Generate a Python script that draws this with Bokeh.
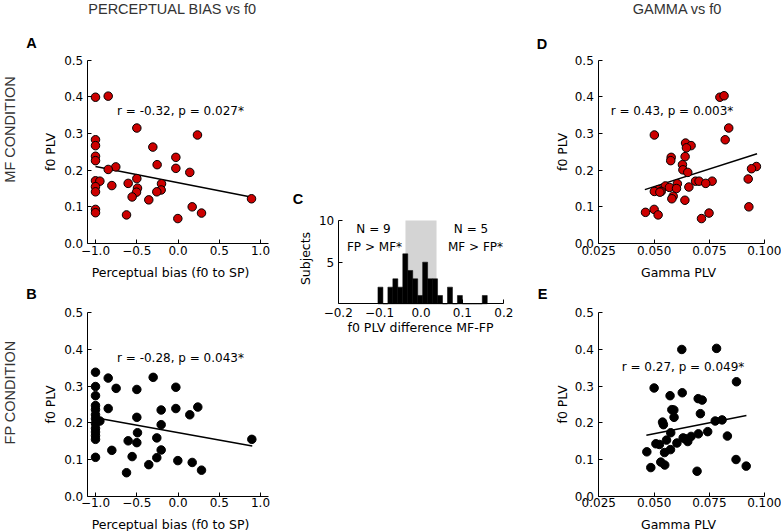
import math
from bokeh.plotting import figure
from bokeh.layouts import row, column
from bokeh.models import FixedTicker, Label, Range1d, LinearAxis
from bokeh.embed import file_html
from bokeh.resources import INLINE

# ---------------- data ----------------
# Panel A: MF condition, perceptual bias vs f0 PLV
a_bias = [-1.0, -0.846, -0.499, 0.236, -1.0, -1.0, -0.305, -1.0, -1.0, -0.026, -0.253, -0.754,
          -0.846, -0.026, 0.143, -0.499, -1.0, -0.947, -0.604, -0.802, -0.200, -1.0, -0.491, -0.204,
          -1.0, -0.503, -0.257, -0.556, -0.354, 0.891, 0.172, -1.0, -1.0, 0.285, -0.624, -0.002]
a_plv = [0.399, 0.402, 0.315, 0.296, 0.283, 0.267, 0.263, 0.238, 0.226, 0.235, 0.215, 0.209,
         0.202, 0.205, 0.194, 0.177, 0.171, 0.170, 0.164, 0.158, 0.163, 0.155, 0.151, 0.146,
         0.141, 0.140, 0.141, 0.127, 0.119, 0.122, 0.100, 0.093, 0.084, 0.083, 0.078, 0.068]
a_fit_x = [-1.0, 0.90]
a_fit_y = [0.210, 0.126]
a_stat = "r = -0.32, p = 0.027*"

# Panel B: FP condition, perceptual bias vs f0 PLV
b_bias = [-1.0, -0.846, -0.301, -1.0, -0.026, -0.750, -0.499, -1.0, -1.0, -0.846, -0.026, 0.240,
          -1.0, -0.204, 0.143, -1.0, -0.499, -1.0, -0.947, -1.0, -0.204, -1.0, -1.0, -0.491,
          -1.0, -0.257, -1.0, 0.895, -0.604, -0.499, -0.802, -0.204, -0.556, -0.257, -1.0, -0.002,
          -0.354, 0.172, -0.624, 0.285]
b_plv = [0.338, 0.322, 0.324, 0.299, 0.297, 0.294, 0.291, 0.274, 0.247, 0.239, 0.239, 0.243,
         0.236, 0.235, 0.222, 0.222, 0.215, 0.211, 0.205, 0.198, 0.195, 0.185, 0.175, 0.173,
         0.165, 0.159, 0.155, 0.155, 0.151, 0.146, 0.125, 0.126, 0.108, 0.105, 0.106, 0.097,
         0.086, 0.092, 0.064, 0.071]
b_fit_x = [-1.0, 0.90]
b_fit_y = [0.214, 0.137]
b_stat = "r = -0.28, p = 0.043*"

# Panel C: histogram of f0 PLV difference MF-FP
hist_edges = [-0.104, -0.092, -0.080, -0.068, -0.056, -0.044, -0.032, -0.020, -0.008, 0.004,
              0.016, 0.028, 0.040, 0.052, 0.064, 0.076, 0.088, 0.100, 0.112, 0.124, 0.136,
              0.148, 0.160]
hist_counts = [2, 0, 2, 3, 2, 6, 4, 3, 1, 5, 3, 3, 1, 0, 2, 0, 1, 0, 0, 0, 0, 1]
null_band = [-0.0375, 0.0375]
c_left_text = ["N = 9", "FP > MF*"]
c_right_text = ["N = 5", "MF > FP*"]

# Panel D: MF condition, gamma PLV vs f0 PLV
d_gamma = [0.0797, 0.0816, 0.0837, 0.0501, 0.0821, 0.0642, 0.0667, 0.0646, 0.0577, 0.0575,
           0.0640, 0.0628, 0.0630, 0.0652, 0.0962, 0.0940, 0.0925, 0.0762, 0.0687, 0.0703,
           0.0733, 0.0605, 0.0551, 0.0569, 0.0657, 0.0601, 0.0520, 0.0532, 0.0501, 0.0526,
           0.0586, 0.0580, 0.0639, 0.0928, 0.0500, 0.0461, 0.0748, 0.0518, 0.0714]
d_plv = [0.399, 0.403, 0.315, 0.296, 0.283, 0.274, 0.267, 0.261, 0.235, 0.226,
         0.237, 0.215, 0.201, 0.194, 0.210, 0.204, 0.176, 0.170, 0.170, 0.170,
         0.164, 0.163, 0.157, 0.153, 0.154, 0.150, 0.147, 0.142, 0.142, 0.140,
         0.129, 0.122, 0.118, 0.100, 0.093, 0.085, 0.083, 0.078, 0.068]
d_fit_x = [0.0458, 0.0965]
d_fit_y = [0.147, 0.245]
d_stat = "r = 0.43, p = 0.003*"

# Panel E: FP condition, gamma PLV vs f0 PLV
e_gamma = [0.0625, 0.0782, 0.0872, 0.0500, 0.0572, 0.0627, 0.0699, 0.0717, 0.0580, 0.0589,
           0.0709, 0.0590, 0.0538, 0.0542, 0.0776, 0.0807, 0.0575, 0.0742, 0.0700, 0.0831,
           0.0667, 0.0639, 0.0652, 0.0631, 0.0556, 0.0603, 0.0508, 0.0524, 0.0574, 0.0547,
           0.0467, 0.0530, 0.0870, 0.0548, 0.0916, 0.0485, 0.0694]
e_plv = [0.400, 0.403, 0.312, 0.295, 0.274, 0.282, 0.266, 0.262, 0.236, 0.235,
         0.225, 0.215, 0.202, 0.195, 0.205, 0.208, 0.173, 0.176, 0.170, 0.164,
         0.163, 0.157, 0.149, 0.159, 0.153, 0.145, 0.143, 0.141, 0.127, 0.119,
         0.121, 0.093, 0.100, 0.085, 0.082, 0.078, 0.068]
e_fit_x = [0.0465, 0.0917]
e_fit_y = [0.166, 0.220]
e_stat = "r = 0.27, p = 0.049*"

# axis ranges and tick labels
bias_range = [-1.1, 1.1]
gamma_range = [0.025, 0.1]
plv_range = [0.0, 0.5]
diff_range = [-0.2, 0.2]
count_range = [0, 10]
bias_ticks = [-1.0, -0.5, 0.0, 0.5, 1.0]
bias_labels = ["\u22121.0", "\u22120.5", "0.0", "0.5", "1.0"]
plv_ticks = [0.0, 0.1, 0.2, 0.3, 0.4, 0.5]
plv_labels = ["0.0", "0.1", "0.2", "0.3", "0.4", "0.5"]
gamma_ticks = [0.025, 0.05, 0.075, 0.1]
gamma_labels = ["0.025", "0.050", "0.075", "0.100"]
diff_ticks = [-0.2, -0.1, 0.0, 0.1, 0.2]
diff_labels = ["\u22120.2", "\u22120.1", "0.0", "0.1", "0.2"]
count_ticks = [5, 10]
count_labels = ["5", "10"]

# ---------------- styling ----------------
FONT = "DejaVu Sans"
HEAD = "Liberation Sans"
RED = "#cc0000"
HEAD_COLOR = "#333333"
AX_LABEL = "12.5px"
HEAD_SIZE = "14.5px"


class Panel:
    """A figure whose whole canvas is the frame; the axes sit at fixed positions,
    so that texts around the plot area can be drawn on the same canvas."""

    def __init__(self, fig_box, plot_box, xr, yr, xt, xl, yt, yl, xstand=2, ystand=4):
        fl, ft, fw, fh = fig_box
        pl, pt, pr, pb = plot_box
        self.pl, self.pb = pl, pb
        self.xr, self.yr = xr, yr
        self.xpp = (xr[1] - xr[0]) / (pr - pl)
        self.ypp = (yr[1] - yr[0]) / (pb - pt)
        x0 = xr[0] - (pl - fl) * self.xpp
        x1 = xr[1] + (fl + fw - pr) * self.xpp
        y0 = yr[0] - (ft + fh - pb) * self.ypp
        y1 = yr[1] + (pt - ft) * self.ypp
        p = figure(width=fw, height=fh, x_range=Range1d(x0, x1), y_range=Range1d(y0, y1),
                   output_backend="svg", toolbar_location=None,
                   x_axis_location=None, y_axis_location=None, min_border=0,
                   min_border_left=0, min_border_right=0, min_border_top=0, min_border_bottom=0)
        p.grid.visible = False
        p.outline_line_color = None
        p.background_fill_color = "white"
        p.border_fill_color = "white"
        xa = LinearAxis(fixed_location=yr[0], bounds=(xr[0], xr[1]),
                        ticker=FixedTicker(ticks=xt), major_label_overrides=dict(zip(xt, xl)),
                        major_label_standoff=xstand)
        ya = LinearAxis(fixed_location=xr[0], bounds=(yr[0], yr[1]),
                        ticker=FixedTicker(ticks=yt), major_label_overrides=dict(zip(yt, yl)),
                        major_label_standoff=ystand)
        for ax in (xa, ya):
            ax.axis_line_color = "black"
            ax.axis_line_width = 1
            ax.major_tick_in = 4
            ax.major_tick_out = 0
            ax.major_tick_line_color = "black"
            ax.minor_tick_line_color = None
            ax.major_label_text_font = FONT
            ax.major_label_text_font_size = "12px"
            ax.major_label_text_color = "black"
        p.add_layout(xa, "below")
        p.add_layout(ya, "left")
        self.p = p

    def at(self, px, py):
        return (self.xr[0] + (px - self.pl) * self.xpp,
                self.yr[0] + (self.pb - py) * self.ypp)

    def text(self, px, py, text, size="12px", font=FONT, angle=0.0, style="normal",
             align="center", baseline="middle", color="black"):
        x, y = self.at(px, py)
        self.p.add_layout(Label(x=x, y=y, text=text, angle=angle,
                                text_font=font, text_font_size=size, text_font_style=style,
                                text_align=align, text_baseline=baseline, text_color=color))


def scatter_panel(pn, xs, ys, fx, fy, fill):
    pn.p.line(fx, fy, line_color="black", line_width=1.5)
    pn.p.scatter(xs, ys, size=8.5, fill_color=fill, line_color="black", line_width=1)


VERT = math.pi / 2

# Panel A
A = Panel((0, 0, 288, 280), (86.75, 59.7, 268.25, 243), bias_range, plv_range,
          bias_ticks, bias_labels, plv_ticks, plv_labels)
scatter_panel(A, a_bias, a_plv, a_fit_x, a_fit_y, RED)
A.text(180, 110.5, a_stat)
A.text(172, 8, "PERCEPTUAL BIAS vs f0", size=HEAD_SIZE, font=HEAD, color=HEAD_COLOR)
A.text(9, 129, "MF CONDITION", size=HEAD_SIZE, font=HEAD, angle=VERT, color=HEAD_COLOR)
A.text(31, 42.5, "A", size="14.5px", font=HEAD, style="bold")
A.text(50, 151.5, "f0 PLV", size=AX_LABEL, angle=VERT)
A.text(170, 272, "Perceptual bias (f0 to SP)", size=AX_LABEL)

# Panel B
B = Panel((0, 280, 288, 251), (86.75, 312.3, 268.25, 495.7), bias_range, plv_range,
          bias_ticks, bias_labels, plv_ticks, plv_labels)
scatter_panel(B, b_bias, b_plv, b_fit_x, b_fit_y, "black")
B.text(180, 357, b_stat)
B.text(9, 392, "FP CONDITION", size=HEAD_SIZE, font=HEAD, angle=VERT, color=HEAD_COLOR)
B.text(31, 293, "B", size="14.5px", font=HEAD, style="bold")
B.text(50, 404, "f0 PLV", size=AX_LABEL, angle=VERT)
B.text(170, 524, "Perceptual bias (f0 to SP)", size=AX_LABEL)

# Panel C
C = Panel((288, 0, 242, 531), (337.7, 220, 503.3, 303.3), diff_range, count_range,
          diff_ticks, diff_labels, count_ticks, count_labels, xstand=4, ystand=4)
C.p.quad(left=[null_band[0]], right=[null_band[1]], bottom=[count_range[0]],
         top=[count_range[1]], fill_color="#d4d4d4", line_color=None)
C.p.quad(left=hist_edges[:-1], right=hist_edges[1:], bottom=0, top=hist_counts,
         fill_color="black", line_color="black", line_width=0.5)
C.text(373, 228.5, c_left_text[0])
C.text(374, 246, c_left_text[1])
C.text(470.5, 228.5, c_right_text[0])
C.text(475, 246, c_right_text[1])
C.text(297.5, 198, "C", size="14.5px", font=HEAD, style="bold")
C.text(305, 258, "Subjects", size=AX_LABEL, angle=VERT)
C.text(420, 327, "f0 PLV difference MF-FP", size=AX_LABEL)

# Panel D
D = Panel((530, 0, 251, 280), (598.3, 59.7, 764.3, 243), gamma_range, plv_range,
          gamma_ticks, gamma_labels, plv_ticks, plv_labels, ystand=5)
scatter_panel(D, d_gamma, d_plv, d_fit_x, d_fit_y, RED)
D.text(671.5, 110.5, d_stat)
D.text(677, 8, "GAMMA vs f0", size=HEAD_SIZE, font=HEAD, color=HEAD_COLOR)
D.text(541.5, 43.5, "D", size="14.5px", font=HEAD, style="bold")
D.text(562, 151.5, "f0 PLV", size=AX_LABEL, angle=VERT)
D.text(678, 272, "Gamma PLV", size=AX_LABEL)

# Panel E
E = Panel((530, 280, 251, 251), (598.3, 312.3, 764.3, 495.7), gamma_range, plv_range,
          gamma_ticks, gamma_labels, plv_ticks, plv_labels, ystand=5)
scatter_panel(E, e_gamma, e_plv, e_fit_x, e_fit_y, "black")
E.text(682.5, 366, e_stat)
E.text(542, 293, "E", size="14.5px", font=HEAD, style="bold")
E.text(562, 404, "f0 PLV", size=AX_LABEL, angle=VERT)
E.text(678, 524, "Gamma PLV", size=AX_LABEL)

layout = row(column(A.p, B.p), C.p, column(D.p, E.p))
open("out.html", "w").write(file_html(layout, INLINE))
